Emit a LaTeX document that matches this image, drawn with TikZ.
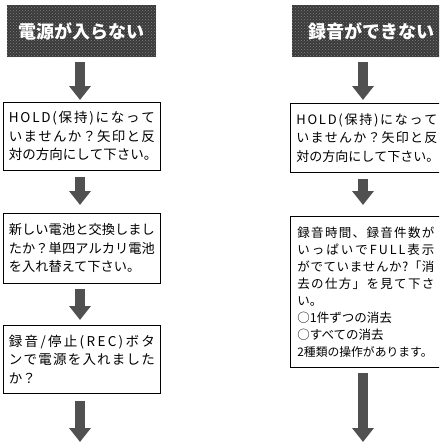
\documentclass[tikz,border=0pt]{standalone}
\usepackage{fontspec}
\setmainfont{Noto Sans CJK JP}
\usetikzlibrary{arrows.meta,patterns}
\definecolor{hdrgray}{HTML}{3A3A3A}
\definecolor{arrgray}{HTML}{505050}
% justified line: spread the characters over the full line width
\def\jlx#1{\ifx\relax#1\else\hfil#1\expandafter\jlx\fi}
\def\jlfirst#1{#1\jlx}
\newcommand\jl[1]{\leavevmode\hbox to \linewidth{\jlfirst#1\relax}}
\tikzset{
  hdr/.style={fill=hdrgray, postaction={pattern=crosshatch dots, pattern color=gray},
    text=white, font=\bfseries\fontsize{18}{20}\selectfont, inner sep=0pt, anchor=north west},
  qbox/.style={draw=black, line width=0.8pt, anchor=north west, inner xsep=5.5pt, inner ysep=2pt,
    align=left, font=\fontsize{13.5}{18.5}\selectfont},
  barrow/.style={draw=arrgray, line width=10.5pt, -{Triangle[width=21pt,length=14pt]}}
}
\begin{document}
\begin{tikzpicture}[x=1pt,y=-1pt]
\useasboundingbox (0,0) rectangle (439,444);
\clip (0,0) rectangle (439,444);
% headers
\node[hdr, minimum width=149pt, minimum height=52pt] (h1) at (7,5) {電源が入らない};
\node[hdr, minimum width=158pt, minimum height=52pt] (h2) at (292,5) {録音ができない};
% left boxes
\node[qbox, text width=146pt, minimum height=68pt] (l1) at (3,102)
  {\jl{HOLD(保持)になって}\\\jl{いませんか？矢印と反}\\\jl{対の方向にして下さい。}};
\node[qbox, text width=146pt, minimum height=70pt, font=\fontsize{13.2}{18.5}\selectfont] (l2) at (3,213)
  {\jl{新しい電池と交換しまし}\\\jl{たか？単四アルカリ電池}\\を入れ替えて下さい。};
\node[qbox, text width=146pt, minimum height=68pt] (l3) at (3,325)
  {\jl{録音/停止(REC)ボタ}\\\jl{ンで電源を入れました}\\か？};
% right boxes
\node[qbox, text width=141pt, minimum height=69pt, font=\fontsize{13}{18.5}\selectfont,
  inner xsep=6pt] (r1) at (290,103)
  {\jl{HOLD(保持)になって}\\\jl{いませんか？矢印と反}\\\jl{対の方向にして下さい。}};
\node[qbox, text width=137pt, minimum height=151pt, font=\fontsize{12.5}{17}\selectfont,
  inner xsep=7pt] (r2) at (290,216)
  {\jl{録音時間、録音件数が}\\\jl{いっぱいでFULL表示}\\\jl{がでていませんか?「消}\\\jl{去の仕方」を見て下さ}\\い。\\○1件ずつの消去\\○すべての消去\\{\fontsize{11.8}{17}\selectfont 2種類の操作があります。}};
% arrow anchors
\coordinate (lx) at (80,0);
\coordinate (rx) at (363,0);
\coordinate (lend) at (80,442);
\coordinate (rend) at (363,442);
% arrows
\draw[barrow] ([yshift=-5pt]h1.south -| lx) -- ([yshift=2pt]l1.north -| lx);
\draw[barrow] ([yshift=-6pt]l1.south -| lx) -- ([yshift=8pt]l2.north -| lx);
\draw[barrow] ([yshift=-5pt]l2.south -| lx) -- ([yshift=5pt]l3.north -| lx);
\draw[barrow] ([yshift=-7pt]l3.south -| lx) -- (lend);
\draw[barrow] ([yshift=-5pt]h2.south -| rx) -- ([yshift=3pt]r1.north -| rx);
\draw[barrow] ([yshift=-6pt]r1.south -| rx) -- ([yshift=11pt]r2.north -| rx);
\draw[barrow] ([yshift=-5pt]r2.south -| rx) -- (rend);
\end{tikzpicture}
\end{document}
